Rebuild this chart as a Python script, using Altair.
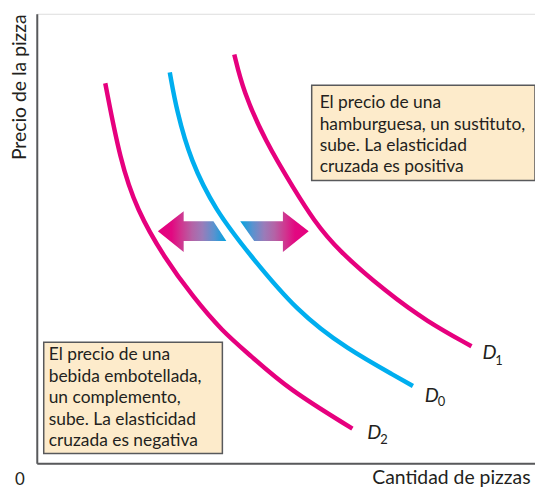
import altair as alt
import pandas as pd

# ---- plot units: x = quantity (0..502), y = price (0..453) ----
W, H = 502, 453

# demand curves
d1_x = [199, 208, 230, 260, 279, 303, 353, 393, 438]
d1_y = [412, 375, 325, 275, 245, 215, 172, 143, 118]
d0_x = [134, 141, 155, 180, 213, 263, 313, 363, 379]
d0_y = [394, 355, 305, 255, 212, 152, 115, 87, 78]
d2_x = [69, 84, 101, 128, 158, 187, 215, 253, 318]
d2_y = [383, 305, 255, 208, 167, 133, 109, 75, 35]

# shift arrows (x, top, bottom)
left_arrow_x = [122, 148, 148.01, 178, 191]
left_arrow_top = [234, 254, 244, 244, 224]
left_arrow_bot = [234, 213, 224, 224, 224]
right_arrow_x = [205, 219, 247.99, 248, 274]
right_arrow_top = [244, 244, 244, 254, 234]
right_arrow_bot = [244, 224, 224, 213, 234]

# annotation boxes
box_x = [277, 7]
box_x2 = [502, 187]
box_y = [381, 122]
box_y2 = [285, 10]

box1_lines = ["El precio de una", "hamburguesa, un sustituto,", "sube. La elasticidad", "cruzada es positiva"]
box1_x = 285
box1_y = [363, 341, 320, 299]
box2_lines = ["El precio de una", "bebida embotellada,", "un complemento,", "sube. La elasticidad", "cruzada es negativa"]
box2_x = 12
box2_y = [109, 87, 66, 44, 22]

# curve labels
lab_text = ["D", "D", "D"]
lab_x = [449, 391, 333]
lab_y = [111, 68, 31]
sub_text = ["1", "0", "2"]
sub_x = [462, 404, 346]
sub_y = [103, 62, 24]

MAGENTA = "#E6007E"
BLUE = "#00AEEF"
TXT = "#231F20"
FONT = "Lato"

xs = alt.Scale(domain=[0, W], nice=False, zero=False)
ys = alt.Scale(domain=[0, H], nice=False, zero=False)
xaxis = alt.Axis(domain=True, ticks=False, labels=False, grid=False,
                 domainColor="#58595B", domainWidth=2,
                 titleAnchor="end", titleAlign="right", titleX=497, titleY=20,
                 titleBaseline="alphabetic", titleFont=FONT, titleFontSize=19.5,
                 titleFontWeight="normal", titleColor=TXT)
yaxis = alt.Axis(domain=True, ticks=False, labels=False, grid=False,
                 domainColor="#58595B", domainWidth=2,
                 titleAngle=270, titleAlign="right", titleX=-17, titleY=0,
                 titleBaseline="middle", titleFont=FONT, titleFontSize=19.5,
                 titleFontWeight="normal", titleColor=TXT)
XT = "Cantidad de pizzas"
YT = "Precio de la pizza"


def X(f):
    return alt.X(f, type="quantitative", scale=xs, axis=xaxis, title=XT)


def Y(f):
    return alt.Y(f, type="quantitative", scale=ys, axis=yaxis, title=YT)


rows = []
for name, xx, yy in [("D1", d1_x, d1_y), ("D0", d0_x, d0_y), ("D2", d2_x, d2_y)]:
    for i, (a, b) in enumerate(zip(xx, yy)):
        rows.append({"curve": name, "x": a, "y": b, "i": i})
curves_df = pd.DataFrame(rows)

curves = alt.Chart(curves_df).mark_line(strokeWidth=4.5, interpolate="basis").encode(
    x=X("x"), y=Y("y"),
    order=alt.Order("i:Q"),
    color=alt.Color("curve:N", scale=alt.Scale(domain=["D1", "D0", "D2"], range=[MAGENTA, BLUE, MAGENTA]), legend=None),
)

stops = [
    alt.GradientStop(color="#E6007E", offset=0),
    alt.GradientStop(color="#E20881", offset=0.2),
    alt.GradientStop(color="#D0358F", offset=0.34),
    alt.GradientStop(color="#B463A6", offset=0.5),
    alt.GradientStop(color="#9A7CB9", offset=0.65),
    alt.GradientStop(color="#5A92CF", offset=0.82),
    alt.GradientStop(color="#00A3E0", offset=1),
]
grad_left = alt.Gradient(gradient="linear", stops=stops, x1=0, x2=1, y1=0, y2=0)
grad_right = alt.Gradient(gradient="linear", stops=stops, x1=1, x2=0, y1=0, y2=0)

la_df = pd.DataFrame({"x": left_arrow_x, "top": left_arrow_top, "bot": left_arrow_bot})
ra_df = pd.DataFrame({"x": right_arrow_x, "top": right_arrow_top, "bot": right_arrow_bot})
left_arrow = alt.Chart(la_df).mark_area(fill=grad_left, interpolate="linear").encode(
    x=X("x"), y=Y("top"), y2="bot")
right_arrow = alt.Chart(ra_df).mark_area(fill=grad_right, interpolate="linear").encode(
    x=X("x"), y=Y("top"), y2="bot")

boxes_df = pd.DataFrame({"x": box_x, "x2": box_x2, "y": box_y, "y2": box_y2})
boxes = alt.Chart(boxes_df).mark_rect(fill="#FDEBCB", stroke="#58595B", strokeWidth=1.5).encode(
    x=X("x"), x2="x2", y=Y("y"), y2="y2")

txt_df = pd.DataFrame({
    "t": box1_lines + box2_lines,
    "x": [box1_x] * len(box1_lines) + [box2_x] * len(box2_lines),
    "y": box1_y + box2_y,
})
texts = alt.Chart(txt_df).mark_text(align="left", baseline="middle", font=FONT, fontSize=17.5, color=TXT).encode(
    x=X("x"), y=Y("y"), text="t:N")

lab_df = pd.DataFrame({"t": lab_text, "x": lab_x, "y": lab_y})
labels = alt.Chart(lab_df).mark_text(align="left", baseline="middle", font=FONT, fontSize=20,
                                     fontStyle="italic", color=TXT).encode(
    x=X("x"), y=Y("y"), text="t:N")
sub_df = pd.DataFrame({"t": sub_text, "x": sub_x, "y": sub_y})
subs = alt.Chart(sub_df).mark_text(align="left", baseline="middle", font=FONT, fontSize=13, color=TXT).encode(
    x=X("x"), y=Y("y"), text="t:N")

zero_df = pd.DataFrame({"t": ["0"], "x": [-17], "y": [-17]})
zero = alt.Chart(zero_df).mark_text(align="center", baseline="middle", font=FONT, fontSize=17, color=TXT).encode(
    x=X("x"), y=Y("y"), text="t:N")

chart = alt.layer(curves, left_arrow, right_arrow, boxes, texts, labels, subs, zero).properties(
    width=W, height=H,
    autosize=alt.AutoSizeParams(type="none"),
    padding={"left": 29, "top": 4, "right": 0, "bottom": 23},
).configure_view(stroke=None).configure(background="white")

chart.save("out.html", embed_options={"renderer": "svg", "actions": False})
